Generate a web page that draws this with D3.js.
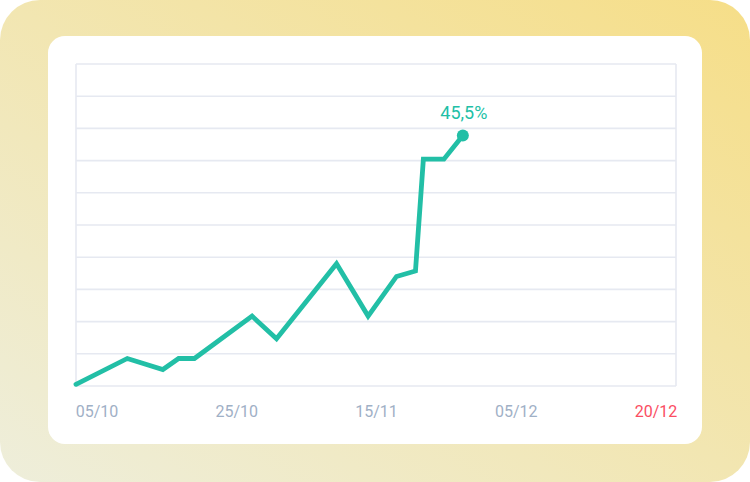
<!DOCTYPE html>
<html>
<head>
<meta charset="utf-8">
<script src="https://cdn.jsdelivr.net/npm/d3@7"></script>
<style>
  html, body { margin: 0; padding: 0; background: #fff; }
  svg { display: block; }
</style>
</head>
<body>
<div id="chart"></div>
<script>
// x positions are days counted from 05/10
const days = [0, 6.5, 11, 13, 15, 22.3, 25.4, 33, 37, 40.6, 43, 44, 46.6, 49];
const values = [0.3, 5.0, 3.0, 5.0, 5.0, 12.7, 8.6, 22.2, 12.7, 19.9, 20.9, 41.2, 41.2, 45.5];
const tickLabels = ["05/10", "25/10", "15/11", "05/12", "20/12"];
const lastLabel = "45,5%";

const width = 750;
const height = 482;
const plot = { left: 76, right: 676, top: 64, bottom: 386 };

const svg = d3
  .select("#chart")
  .append("svg")
  .attr("width", width)
  .attr("height", height)
  .attr("viewBox", `0 0 ${width} ${height}`);

// background gradient, bottom-left beige to top-right yellow
const grad = svg
  .append("defs")
  .append("linearGradient")
  .attr("id", "bg")
  .attr("x1", "0%")
  .attr("y1", "100%")
  .attr("x2", "100%")
  .attr("y2", "0%");
grad.append("stop").attr("offset", "0%").attr("stop-color", "#eeeedb");
grad.append("stop").attr("offset", "100%").attr("stop-color", "#f6de88");

svg
  .append("rect")
  .attr("width", width)
  .attr("height", height)
  .attr("rx", 40)
  .attr("fill", "url(#bg)");

// white card
svg
  .append("rect")
  .attr("x", 48)
  .attr("y", 36)
  .attr("width", 654)
  .attr("height", 408)
  .attr("rx", 17)
  .attr("fill", "#fff");

const x = d3.scaleLinear().domain([0, 76]).range([plot.left, plot.right]);
const y = d3.scaleLinear().domain([0, 58.5]).range([plot.bottom, plot.top]);
const labelX = d3.scalePoint().domain(tickLabels).range([97, 656]);

// horizontal gridlines, 10 bands
const gridY = d3.range(11).map((i) => plot.top + (i * (plot.bottom - plot.top)) / 10);
svg
  .append("g")
  .selectAll("line")
  .data(gridY)
  .join("line")
  .attr("x1", plot.left)
  .attr("x2", plot.right)
  .attr("y1", (d) => d)
  .attr("y2", (d) => d)
  .attr("stroke", "#e6e9f1")
  .attr("stroke-width", 1.6);

// left and right borders
[plot.left, plot.right].forEach((px) => {
  svg
    .append("line")
    .attr("x1", px)
    .attr("x2", px)
    .attr("y1", plot.top)
    .attr("y2", plot.bottom)
    .attr("stroke", "#e6e9f1")
    .attr("stroke-width", 1.6);
});

// x labels
svg
  .append("g")
  .selectAll("text")
  .data(tickLabels)
  .join("text")
  .attr("x", (d) => labelX(d))
  .attr("y", 417)
  .attr("text-anchor", "middle")
  .attr("font-family", "Roboto, sans-serif")
  .attr("font-size", "16px")
  .attr("fill", (d, i) => (i === tickLabels.length - 1 ? "#fb4d62" : "#9fb0c6"))
  .text((d) => d);

const pts = days.map((d, i) => [d, values[i]]);

const line = d3
  .line()
  .x((d) => x(d[0]))
  .y((d) => y(d[1]));

svg
  .append("path")
  .datum(pts)
  .attr("d", line)
  .attr("fill", "none")
  .attr("stroke", "#22bfa6")
  .attr("stroke-width", 4.8)
  .attr("stroke-linejoin", "miter")
  .attr("stroke-linecap", "round");

// last point marker and label
const last = pts[pts.length - 1];
svg
  .append("circle")
  .attr("cx", x(last[0]))
  .attr("cy", y(last[1]))
  .attr("r", 6)
  .attr("fill", "#22bfa6");

svg
  .append("text")
  .attr("x", x(last[0]) + 1)
  .attr("y", 119)
  .attr("text-anchor", "middle")
  .attr("font-family", "Roboto, sans-serif")
  .attr("font-size", "18px")
  .attr("fill", "#22bfa6")
  .text(lastLabel);
</script>
</body>
</html>
